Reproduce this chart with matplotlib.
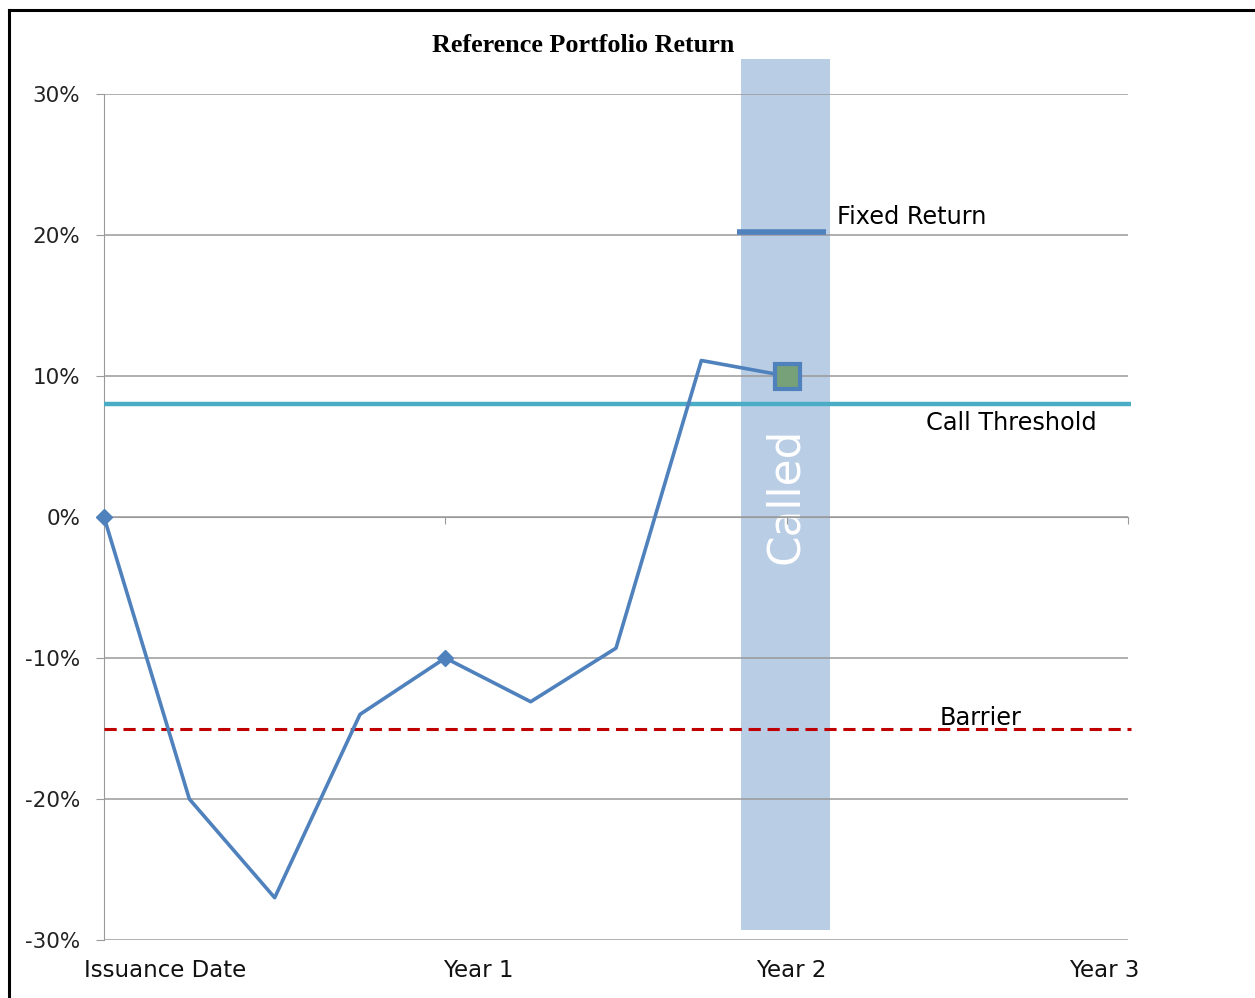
import numpy as np
import matplotlib.pyplot as plt
from matplotlib.patches import Rectangle
from matplotlib.lines import Line2D

# quarterly observations of the reference portfolio (quarters since issuance)
quarters = [0, 1, 2, 3, 4, 5, 6, 7, 8]
returns = [0, -20, -27, -14, -10, -13.1, -9.3, 11.1, 10]
diamond_q = [0, 4]
call_q = 8

call_threshold = 8
barrier = -15
fixed_return = 20.2
called_band = (7.47, 8.51)

x_labels = ["Issuance Date", "Year 1", "Year 2", "Year 3"]
y_ticks = [-30, -20, -10, 0, 10, 20, 30]

blue = "#4F81BD"

fig = plt.figure(figsize=(12.55, 9.98), dpi=100)
ax = fig.add_axes([104/1255, 58/998, 1024/1255, 846/998])
ax.set_xlim(0, 12)
ax.set_ylim(-30, 30)

# called shading, sticks out above the plot area
ax.add_patch(Rectangle((called_band[0], -29.3), called_band[1] - called_band[0], 61.8,
                       facecolor="#B9CDE5", edgecolor="none", zorder=1, clip_on=False))
ax.text(np.mean(called_band), 1.5, "Called", rotation=90, color="white",
        fontsize=31.5, ha="center", va="center", zorder=2)

ax.yaxis.grid(True, color="#9a9a9a", lw=1.1, zorder=3)
ax.set_axisbelow(False)
for g in ax.get_ygridlines():
    g.set_zorder(3)

for s in ["top", "right"]:
    ax.spines[s].set_visible(False)
ax.spines["left"].set_color("#9a9a9a")
ax.spines["bottom"].set_color("#9a9a9a")
ax.spines["bottom"].set_position(("data", 0))
ax.spines["left"].set_zorder(3)
ax.spines["bottom"].set_zorder(3)

ax.set_yticks(y_ticks)
ax.set_yticklabels([f"{v}%" for v in y_ticks], fontsize=15.5, color="#222222")
ax.tick_params(axis="y", length=6, color="#9a9a9a", pad=11)
ax.set_xticks([4, 8, 12])
ax.set_xticklabels([])
ax.tick_params(axis="x", length=5, color="#9a9a9a")

for xp, lab in zip(np.linspace(0.0596, 0.977, 4), x_labels):
    ax.text(xp, -0.036, lab, transform=ax.transAxes, ha="center", va="center",
            fontsize=16.5, color="#111111")

# reference levels
ax.plot([0, 12.03], [call_threshold, call_threshold], color="#4BACC6", lw=3.2,
        zorder=4, clip_on=False, solid_capstyle="butt")
ax.plot([0, 12.03], [barrier, barrier], color="#C00000", lw=2.2, ls=(0, (4, 2.2)),
        zorder=4, clip_on=False)
ax.plot([7.42, 8.46], [fixed_return, fixed_return], color=blue, lw=4, zorder=4,
        solid_capstyle="butt")

ax.text(8.59, 21.3, "Fixed Return", fontsize=17.3, va="center", ha="left")
ax.text(9.63, 6.65, "Call Threshold", fontsize=17.3, va="center", ha="left")
ax.text(9.79, -14.25, "Barrier", fontsize=17.3, va="center", ha="left")

ax.plot(quarters, returns, color=blue, lw=2.6, zorder=5, clip_on=False)
ax.plot(diamond_q, [returns[q] for q in diamond_q], ls="none", marker="D",
        ms=8, color=blue, zorder=6, clip_on=False)
ax.plot([call_q], [returns[call_q]], ls="none", marker="s", ms=18,
        markerfacecolor="#77A178", markeredgecolor=blue, markeredgewidth=3, zorder=6)

fig.text(583/1255, 1 - 46/998, "Reference Portfolio Return", family="Liberation Serif",
         fontweight="bold", fontsize=18.8, ha="center", va="center")

# outer frame (only top and left edges visible)
fig.add_artist(Line2D([8.5/1255, 1], [1 - 10/998, 1 - 10/998], color="black", lw=2.2,
                      transform=fig.transFigure))
fig.add_artist(Line2D([8.5/1255, 8.5/1255], [0, 1 - 10/998], color="black", lw=2.2,
                      transform=fig.transFigure))

fig.savefig("out.png", dpi=100)
